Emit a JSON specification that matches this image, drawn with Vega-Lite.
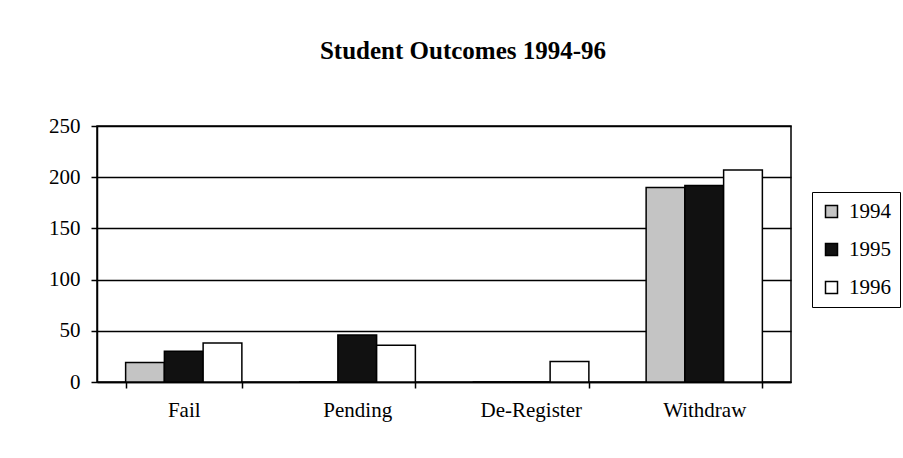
{
  "$schema": "https://vega.github.io/schema/vega-lite/v6.json",
  "autosize": {"type": "none"},
  "padding": {"left": 97, "top": 126, "right": 112, "bottom": 76},
  "width": 694,
  "height": 256,
  "background": "white",
  "title": {
    "text": "Student Outcomes 1994-96",
    "font": "Liberation Serif",
    "fontSize": 25,
    "fontWeight": "bold",
    "color": "#000",
    "anchor": "middle",
    "frame": "group",
    "dx": 19,
    "offset": 51
  },
  "data": {
    "values": [
      {"category": "Fail", "year": "1994", "value": 19},
      {"category": "Fail", "year": "1995", "value": 30},
      {"category": "Fail", "year": "1996", "value": 38},
      {"category": "Pending", "year": "1994", "value": 0},
      {"category": "Pending", "year": "1995", "value": 46},
      {"category": "Pending", "year": "1996", "value": 36},
      {"category": "De-Register", "year": "1994", "value": 0},
      {"category": "De-Register", "year": "1995", "value": 0},
      {"category": "De-Register", "year": "1996", "value": 20},
      {"category": "Withdraw", "year": "1994", "value": 190},
      {"category": "Withdraw", "year": "1995", "value": 192},
      {"category": "Withdraw", "year": "1996", "value": 207}
    ]
  },
  "mark": {"type": "bar", "stroke": "#000", "strokeWidth": 1.5},
  "encoding": {
    "x": {
      "field": "category",
      "type": "nominal",
      "sort": ["Fail", "Pending", "De-Register", "Withdraw"],
      "scale": {"paddingInner": 0.33, "paddingOuter": 0.165},
      "axis": {
        "title": null,
        "labelAngle": 0,
        "labelFont": "Liberation Serif",
        "labelFontSize": 21,
        "labelColor": "#000",
        "labelPadding": 11,
        "tickBand": "extent",
        "tickSize": 6,
        "tickColor": "#000",
        "tickWidth": 1.5,
        "domainColor": "#000",
        "domainWidth": 1.5,
        "grid": false
      }
    },
    "xOffset": {
      "field": "year",
      "type": "nominal",
      "sort": ["1994", "1995", "1996"],
      "scale": {"paddingInner": 0, "paddingOuter": 0}
    },
    "y": {
      "field": "value",
      "type": "quantitative",
      "scale": {"domain": [0, 250], "nice": false},
      "axis": {
        "title": null,
        "values": [0, 50, 100, 150, 200, 250],
        "labelFont": "Liberation Serif",
        "labelFontSize": 21,
        "labelColor": "#000",
        "labelPadding": 11,
        "tickSize": 6,
        "tickColor": "#000",
        "tickWidth": 1.5,
        "domainColor": "#000",
        "domainWidth": 1.5,
        "grid": true,
        "gridColor": "#000",
        "gridWidth": 1.5,
        "gridOpacity": 1
      }
    },
    "color": {
      "field": "year",
      "type": "nominal",
      "scale": {"domain": ["1994", "1995", "1996"], "range": ["#c4c4c4", "#111111", "#ffffff"]},
      "legend": {
        "title": null,
        "orient": "none",
        "legendX": 715,
        "legendY": 66,
        "symbolType": "square",
        "symbolSize": 144,
        "symbolStrokeColor": "#000",
        "symbolStrokeWidth": 1.5,
        "labelFont": "Liberation Serif",
        "labelFontSize": 21,
        "labelColor": "#000",
        "labelOffset": 7,
        "rowPadding": 16,
        "padding": 9,
        "strokeColor": "#000",
        "fillColor": "#fff"
      }
    }
  },
  "config": {
    "view": {"stroke": "#000", "strokeWidth": 1.5}
  }
}
